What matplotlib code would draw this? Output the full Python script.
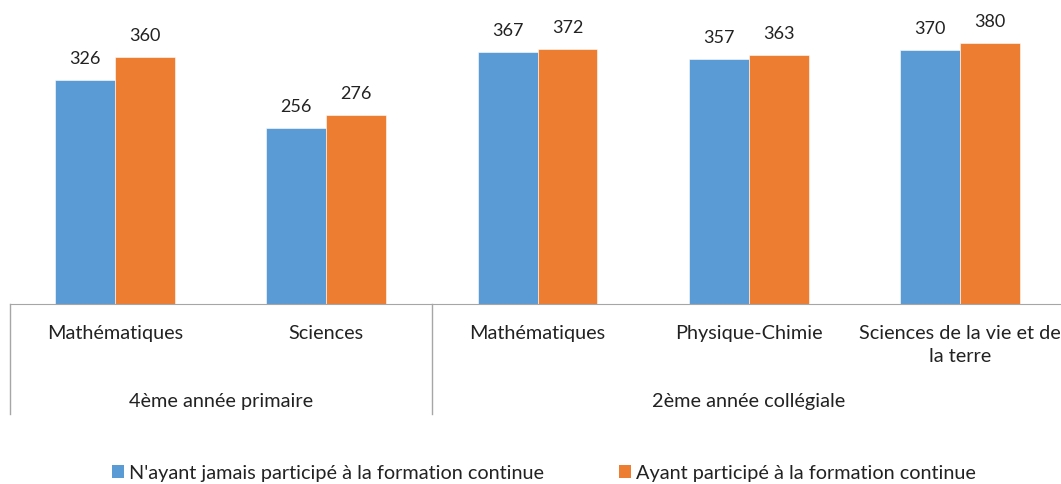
import matplotlib.pyplot as plt
import matplotlib.transforms as mtransforms
from matplotlib.lines import Line2D
from matplotlib.patches import Patch
import numpy as np

plt.rcParams["font.family"] = ["Lato", "DejaVu Sans"]

categories = ["Mathématiques", "Sciences", "Mathématiques", "Physique-Chimie",
              "Sciences de la vie et de\nla terre"]
groups = ["4ème année primaire", "2ème année collégiale"]
group_sizes = [2, 3]
jamais = [326, 256, 367, 357, 370]
participe = [360, 276, 372, 363, 380]
series_names = ["N'ayant jamais participé à la formation continue",
                "Ayant participé à la formation continue"]

BLUE = "#5B9BD5"
ORANGE = "#ED7D31"
LINE = "#A6A6A6"
W, H = 1061, 485
FS = 14.3

fig = plt.figure(figsize=(W / 100, H / 100), dpi=100)
base_px = 305
ax = fig.add_axes([9.5 / W, (H - base_px) / H, 1056 / W, base_px / H])

x = np.arange(len(categories))
bw = 0.284
b1 = ax.bar(x - bw / 2, jamais, bw, color=BLUE, edgecolor="white", linewidth=0.4)
b2 = ax.bar(x + bw / 2, participe, bw, color=ORANGE, edgecolor="white", linewidth=0.4)
for bars in (b1, b2):
    ax.bar_label(bars, padding=10, fontsize=13, color="#222222")

ax.set_xlim(-0.5, len(categories) - 0.5)
ax.set_ylim(0, base_px / 0.686)
for s in ("top", "left", "right"):
    ax.spines[s].set_visible(False)
ax.spines["bottom"].set_color(LINE)
ax.set_xticks([])
ax.set_yticks([])

trans = mtransforms.blended_transform_factory(ax.transData, fig.transFigure)
for xi, label in zip(x, categories):
    ax.text(xi, 1 - 325 / H, label, transform=trans, ha="center", va="top",
            fontsize=FS, color="#222222", linespacing=1.43)

start = 0
for g, n in zip(groups, group_sizes):
    center = start + (n - 1) / 2
    ax.text(center, 1 - 402 / H, g, transform=trans, ha="center", va="center",
            fontsize=FS, color="#222222")
    ax.add_line(Line2D([start - 0.5, start - 0.5], [1 - base_px / H, 1 - 415 / H],
                       transform=trans, color=LINE, linewidth=1, clip_on=False))
    start += n

handles = [Patch(facecolor=BLUE), Patch(facecolor=ORANGE)]
fig.legend(handles, series_names, loc="center", bbox_to_anchor=(544 / W, 1 - 474 / H),
           ncol=2, frameon=False, fontsize=FS, handlelength=0.6, handleheight=0.6,
           handletextpad=0.25, columnspacing=3.75, labelcolor="#222222")

fig.savefig("out.png", dpi=100)
